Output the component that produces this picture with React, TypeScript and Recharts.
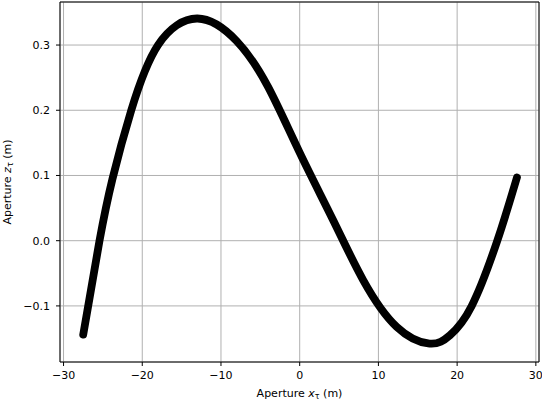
import React from 'react';
import {
  ComposedChart,
  Line,
  XAxis,
  YAxis,
  CartesianGrid,
  ReferenceLine,
  Label,
} from 'recharts';

// points (aperture x, aperture z), metres
const apertureX = [
  -27.5, -25.43, -23.78, -21.4, -18.0, -13.0, -8.0, -4.0, 0.0, 4.27, 8.08,
  12.32, 16.5, 19.09, 21.85, 25.1, 27.6,
];
const apertureZ = [
  -0.144, 0.0, 0.095, 0.2, 0.3, 0.3407, 0.306, 0.2354, 0.135, 0.031, -0.0607,
  -0.132, -0.1578, -0.145, -0.1, 0.0, 0.097,
];

const xTicks = [-30, -20, -10, 0, 10, 20, 30];
const yTicks = [-0.1, 0.0, 0.1, 0.2, 0.3];
const xDomain: [number, number] = [-30.45, 30.4];
const yDomain: [number, number] = [-0.186, 0.366];

const FONT = '"DejaVu Sans", sans-serif';

const fmt = (v: number, digits: number) =>
  (v < 0 ? '\u2212' : '') + Math.abs(v).toFixed(digits);

function XTitle({ viewBox }: any) {
  const cx = viewBox.x + viewBox.width / 2;
  return (
    <text x={cx} y={397} textAnchor="middle" fontFamily={FONT} fontSize={11} fill="#000">
      Aperture <tspan fontStyle="italic">x</tspan>
      <tspan fontSize={8} dy={2}>τ</tspan>
      <tspan dy={-2}> (m)</tspan>
    </text>
  );
}

function YTitle({ viewBox }: any) {
  const cy = viewBox.y + viewBox.height / 2;
  return (
    <text
      x={10.5}
      y={cy}
      transform={`rotate(-90, 10.5, ${cy})`}
      textAnchor="middle"
      fontFamily={FONT}
      fontSize={11}
      fill="#000"
    >
      Aperture <tspan fontStyle="italic">z</tspan>
      <tspan fontSize={8} dy={2}>τ</tspan>
      <tspan dy={-2}> (m)</tspan>
    </text>
  );
}

export default function App() {
  const data = apertureX.map((x, i) => ({ x, z: apertureZ[i] }));

  return (
    <div style={{ position: 'absolute', left: 0, top: 0, width: 542, height: 402, background: '#fff' }}>
      <ComposedChart
        width={542}
        height={402}
        data={data}
        margin={{ top: 2, right: 3, left: 0, bottom: 0 }}
      >
        <CartesianGrid stroke="#b0b0b0" strokeWidth={1} />
        <XAxis
          dataKey="x"
          type="number"
          domain={xDomain}
          ticks={xTicks}
          allowDataOverflow
          height={40}
          tickSize={4}
          tickMargin={5}
          stroke="#000"
          tick={{ fill: '#000', fontSize: 11, fontFamily: FONT }}
          tickFormatter={(v: number) => fmt(v, 0)}
        >
          <Label content={<XTitle />} />
        </XAxis>
        <YAxis
          type="number"
          domain={yDomain}
          ticks={yTicks}
          allowDataOverflow
          width={60}
          tickSize={4}
          tickMargin={6}
          stroke="#000"
          tick={{ fill: '#000', fontSize: 11, fontFamily: FONT }}
          tickFormatter={(v: number) => fmt(v, 1)}
        >
          <Label content={<YTitle />} />
        </YAxis>
        <ReferenceLine y={yDomain[1]} stroke="#000" />
        <ReferenceLine x={xDomain[1]} stroke="#000" />
        <Line
          dataKey="z"
          type="natural"
          stroke="#000"
          strokeWidth={7.8}
          strokeLinecap="round"
          dot={false}
          isAnimationActive={false}
        />
      </ComposedChart>
    </div>
  );
}
